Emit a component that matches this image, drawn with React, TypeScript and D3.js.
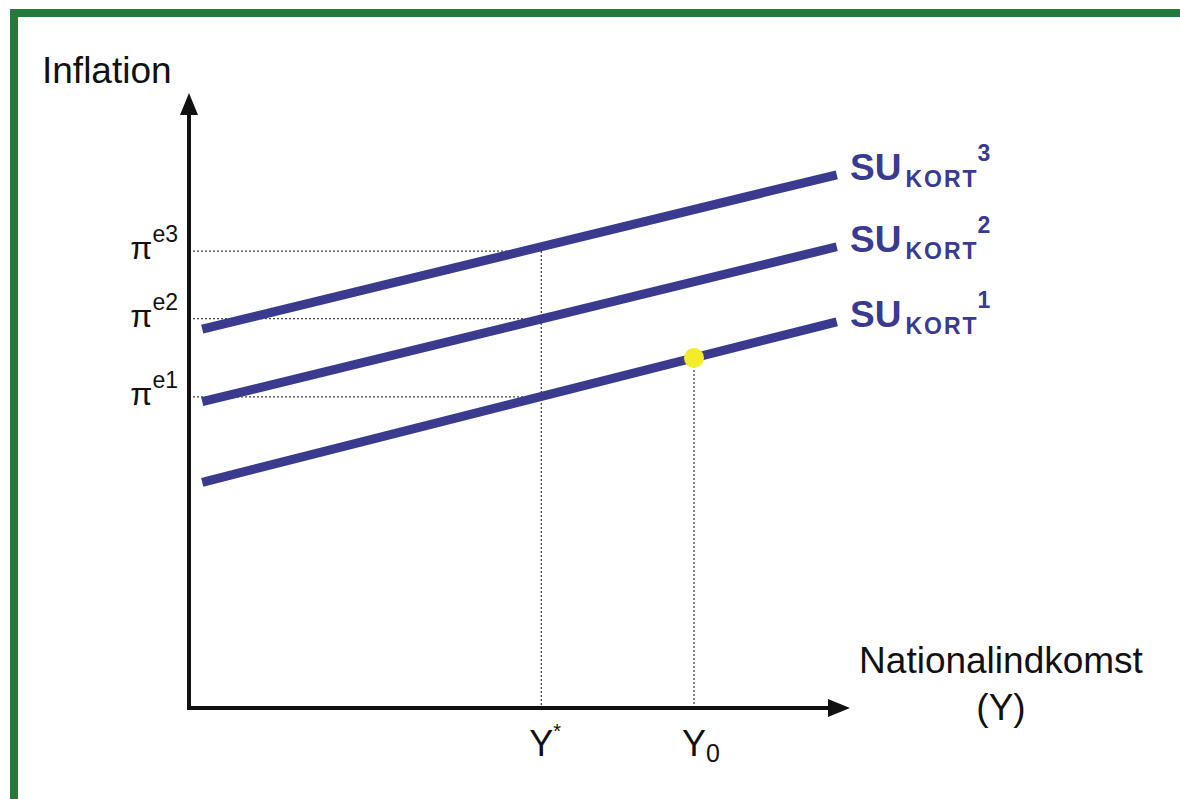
import * as d3 from "d3";

// short-run supply curves (SU kort), in abstract units [x, y]
const curveNames = ["1", "2", "3"];
const curveStart = [36.7, 49.8, 61.6];
const curveEnd = [62.8, 75.0, 86.7];
const curveX = [2, 98];

// expected inflation levels on the y axis
const piLabels = ["e1", "e2", "e3"];
const piLevels = [50.6, 63.3, 74.3];

// income levels on the x axis
const yStar = 53.3;
const yZero = 76.4;

const width = 1180;
const height = 799;
const font = "Arial, 'Liberation Sans', sans-serif";
const blue = "#3a3a8f";
const ink = "#111";

export default function App() {
  const x = d3.scaleLinear().domain([0, 100]).range([189, 850]);
  const y = d3.scaleLinear().domain([0, 100]).range([708, 93]);

  const line = d3
    .line<[number, number]>()
    .x((d) => x(d[0]))
    .y((d) => y(d[1]));

  const curves = curveNames.map((name, i) => ({
    name,
    points: [
      [curveX[0], curveStart[i]],
      [curveX[1], curveEnd[i]],
    ] as [number, number][],
  }));

  const atX = (i: number, xv: number) =>
    curveStart[i] +
    ((curveEnd[i] - curveStart[i]) * (xv - curveX[0])) / (curveX[1] - curveX[0]);
  const dotY = atX(0, yZero);

  const x0 = x(0);
  const yb = y(0);
  const dotted = { stroke: "#444", strokeWidth: 1.3, strokeDasharray: "2,2" };

  return (
    <svg
      width={width}
      height={height}
      style={{ position: "absolute", left: 0, top: 0, background: "#fff" }}
      fontFamily={font}
    >
      {/* green frame */}
      <path d={`M14,${height + 10} V13 H${width + 10}`} fill="none" stroke="#247a3c" strokeWidth={8} />

      {/* guides */}
      {piLevels.map((p, i) => (
        <line key={i} x1={x0} x2={x(yStar)} y1={y(p)} y2={y(p)} {...dotted} />
      ))}
      <line x1={x(yStar)} x2={x(yStar)} y1={y(piLevels[2])} y2={yb} {...dotted} />
      <line x1={x(yZero)} x2={x(yZero)} y1={y(dotY)} y2={yb} {...dotted} />

      {/* curves */}
      {curves.map((c) => (
        <path key={c.name} d={line(c.points) ?? ""} fill="none" stroke={blue} strokeWidth={9} />
      ))}
      <circle cx={x(yZero)} cy={y(dotY)} r={10} fill="#f2ec2a" />

      {/* axes */}
      <line x1={x0} x2={x0} y1={yb + 2} y2={y(100) + 18} stroke={ink} strokeWidth={4} />
      <line x1={x0 - 2} x2={x(100) - 18} y1={yb} y2={yb} stroke={ink} strokeWidth={4} />
      <path d={`M${x0},${y(100)} L${x0 - 9},${y(100) + 22} L${x0 + 9},${y(100) + 22} Z`} fill={ink} />
      <path d={`M${x(100)},${yb} L${x(100) - 22},${yb - 9} L${x(100) - 22},${yb + 9} Z`} fill={ink} />

      {/* axis titles */}
      <text x={42} y={83} fontSize={37} fill={ink}>Inflation</text>
      <text x={1001} y={673} fontSize={37} fill={ink} textAnchor="middle">Nationalindkomst</text>
      <text x={1001} y={720} fontSize={37} fill={ink} textAnchor="middle">(Y)</text>

      {/* pi ticks */}
      {piLevels.map((p, i) => (
        <text key={i} x={178} y={y(p) + 8} fontSize={32} fill={ink} textAnchor="end">
          π<tspan fontSize={23} dy={-17}>{piLabels[i]}</tspan>
        </text>
      ))}

      {/* income ticks */}
      <text x={x(yStar) - 12} y={756} fontSize={36} fill={ink}>
        Y<tspan fontSize={20} dy={-18}>*</tspan>
      </text>
      <text x={x(yZero) - 12} y={756} fontSize={36} fill={ink}>
        Y<tspan fontSize={25} dy={6}>0</tspan>
      </text>

      {/* curve labels */}
      {curves.map((c, i) => (
        <text key={c.name} x={850} y={y(curveEnd[i]) + 5} fill={blue} fontWeight="bold" fontSize={37}>
          SU<tspan fontSize={23} dx={4} dy={7} letterSpacing={2}>KORT</tspan>
          <tspan fontSize={23} dx={-1} dy={-26}>{c.name}</tspan>
        </text>
      ))}
    </svg>
  );
}
